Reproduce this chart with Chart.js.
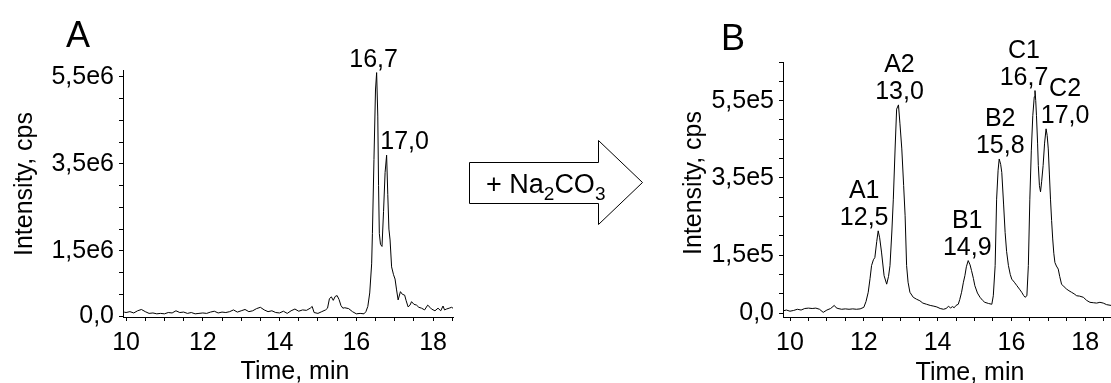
<!DOCTYPE html>
<html>
<head>
<meta charset="utf-8">
<script src="https://cdn.jsdelivr.net/npm/chart.js@4"></script>
<style>
  html, body { margin: 0; padding: 0; background: #fff; }
  #page { position: relative; width: 1111px; height: 383px; overflow: hidden; font-family: 'Liberation Sans', Arial, sans-serif; }
  #page canvas { position: absolute; top: 0; }
  .panel-tag { position: absolute; font-size: 36px; line-height: 1; color: #000; }
  #arrow { position: absolute; left: 0; top: 0; }
</style>
</head>
<body>
<div id="page">
  <canvas id="chartA" width="460" height="383" style="left:0"></canvas>
  <canvas id="chartB" width="451" height="383" style="left:660px"></canvas>
  <div class="panel-tag" style="left:66px; top:17px">A</div>
  <div class="panel-tag" style="left:721px; top:20px">B</div>
  <svg id="arrow" width="1111" height="383">
    <path d="M469.5,162.5 L598.5,162.5 L598.5,140.5 L642.5,182.5 L598.5,224.5 L598.5,203.5 L469.5,203.5 Z"
          fill="#fff" stroke="#000" stroke-width="1"/>
    <text x="486" y="193" font-family="'Liberation Sans', Arial, sans-serif" font-size="27" fill="#000">+ Na<tspan font-size="19" dy="7">2</tspan><tspan dy="-7">CO</tspan><tspan font-size="19" dy="7">3</tspan></text>
  </svg>
</div>

<script>
// ── common ─────────────────────────────────────
const xTickLabels = [10, 12, 14, 16, 18];

// ── panel A : intensity in 1e6 cps ─────────────
const timeA = [
  9.95, 10.0, 10.1, 10.2, 10.3, 10.4, 10.5, 10.6, 10.7, 10.8, 10.9,
  11.0, 11.1, 11.2, 11.3, 11.4, 11.5, 11.6, 11.7, 11.8, 11.9,
  12.0, 12.1, 12.2, 12.3, 12.4, 12.5, 12.6, 12.7, 12.8, 12.9,
  13.0, 13.1, 13.2, 13.3, 13.4, 13.5, 13.6, 13.7, 13.8, 13.9,
  14.0, 14.1, 14.2, 14.3, 14.4, 14.5, 14.6, 14.7, 14.8, 14.85, 14.9,
  15.0, 15.1, 15.2, 15.25, 15.3, 15.35, 15.4, 15.45, 15.5, 15.55, 15.6, 15.65, 15.7, 15.8, 15.9,
  16.0, 16.1, 16.2, 16.25, 16.3, 16.35, 16.4, 16.42, 16.46, 16.5, 16.53, 16.56, 16.58, 16.6, 16.63,
  16.67, 16.71, 16.75, 16.79, 16.82, 16.85, 16.88, 16.92, 16.97, 17.01, 17.05, 17.09, 17.15,
  17.2, 17.26, 17.3, 17.35, 17.4, 17.44, 17.5, 17.57, 17.63, 17.7, 17.78, 17.86, 17.92, 17.96,
  18.05, 18.13, 18.2, 18.26, 18.3, 18.35, 18.42, 18.48, 18.52
];
const intensityA = [
  0.09, 0.08, 0.10, 0.07, 0.12, 0.15, 0.10, 0.06, 0.07, 0.05, 0.06,
  0.05, 0.08, 0.07, 0.12, 0.08, 0.09, 0.06, 0.08, 0.05, 0.06,
  0.07, 0.06, 0.09, 0.11, 0.07, 0.09, 0.08, 0.10, 0.14, 0.09,
  0.12, 0.15, 0.10, 0.12, 0.17, 0.20, 0.14, 0.10, 0.12, 0.08,
  0.07, 0.11, 0.06, 0.12, 0.16, 0.11, 0.14, 0.13, 0.18, 0.22, 0.08,
  0.06, 0.10, 0.14, 0.18, 0.40, 0.44, 0.36, 0.45, 0.47, 0.38, 0.24, 0.18, 0.19, 0.17, 0.10,
  0.05, 0.06, 0.05, 0.10, 0.22, 0.53, 1.20, 1.90, 3.60, 5.20, 5.60, 4.60, 3.00, 1.90, 1.65,
  1.60, 2.40, 3.30, 3.70, 2.80, 2.00, 1.75, 1.13, 0.95, 0.85, 0.60, 0.37, 0.56,
  0.50, 0.48, 0.35, 0.21, 0.25, 0.33, 0.27, 0.25, 0.20, 0.18, 0.14, 0.25, 0.20, 0.16,
  0.12, 0.18, 0.12, 0.23, 0.14, 0.16, 0.18, 0.20, 0.18
];
const peakTimesA = [16.53, 16.79];
const peakTextA = [['16,7'], ['17,0']];
const yTicksA = [0, 1.5, 3.5, 5.5];
const yTickTextA = ['0,0', '1,5e6', '3,5e6', '5,5e6'];

// ── panel B : intensity in 1e5 cps ─────────────
const timeB = [
  9.82, 9.9, 10.0, 10.1, 10.2, 10.3, 10.4, 10.5, 10.6, 10.7, 10.8, 10.9,
  11.0, 11.1, 11.2, 11.25, 11.3, 11.4, 11.5, 11.6, 11.7, 11.8, 11.9,
  12.0, 12.06, 12.12, 12.17, 12.21, 12.26, 12.3, 12.35, 12.39, 12.43, 12.48, 12.55, 12.62, 12.67,
  12.71, 12.76, 12.8, 12.85, 12.89, 12.94, 12.98, 13.03, 13.08, 13.12, 13.16, 13.2, 13.25, 13.34,
  13.43, 13.52, 13.6, 13.7, 13.8, 13.9, 13.98, 14.07, 14.16, 14.23, 14.3, 14.35, 14.4, 14.45, 14.5,
  14.56, 14.6, 14.65, 14.7, 14.74, 14.78, 14.83, 14.88, 14.92, 14.97, 15.01, 15.08, 15.15, 15.22,
  15.28, 15.38, 15.47, 15.51, 15.56, 15.6, 15.64, 15.67, 15.71, 15.74, 15.79, 15.83, 15.87, 15.92,
  15.97, 16.01, 16.08, 16.15, 16.22, 16.28, 16.33, 16.37, 16.42, 16.46, 16.5, 16.54, 16.58, 16.62,
  16.64, 16.66, 16.68, 16.71, 16.73, 16.76, 16.79, 16.82, 16.86, 16.9, 16.94, 16.97, 17.0, 17.03,
  17.06, 17.09, 17.12, 17.15, 17.18, 17.22, 17.27, 17.31, 17.36, 17.43, 17.5, 17.56, 17.63, 17.7,
  17.77, 17.85, 17.95, 18.04, 18.13, 18.22, 18.31, 18.4, 18.49, 18.58, 18.7
];
const intensityB = [
  0.06, 0.08, 0.05, 0.07, 0.10, 0.08, 0.12, 0.13, 0.12, 0.13, 0.10, 0.02,
  0.08, 0.12, 0.20, 0.14, 0.12, 0.10, 0.11, 0.10, 0.11, 0.10, 0.11,
  0.15, 0.30, 0.54, 0.90, 1.23, 1.38, 1.44, 1.85, 2.13, 1.95, 1.58, 0.97, 0.75, 0.95,
  1.23, 2.10, 2.95, 4.30, 5.28, 5.39, 4.90, 4.25, 3.30, 2.52, 1.23, 0.80, 0.54, 0.41,
  0.36, 0.32, 0.26, 0.23, 0.20, 0.18, 0.16, 0.12, 0.10, 0.12, 0.18, 0.13, 0.17, 0.14, 0.20,
  0.23, 0.35, 0.54, 0.80, 0.97, 1.20, 1.36, 1.25, 1.10, 0.90, 0.71, 0.52, 0.41, 0.33,
  0.28, 0.25, 0.23, 0.45, 1.23, 2.95, 3.70, 3.99, 3.85, 3.64, 2.80, 2.09, 1.60, 1.23,
  1.00, 0.88, 0.80, 0.71, 0.62, 0.54, 0.46, 0.41, 0.45, 1.23, 2.95, 4.20, 5.11, 5.60,
  5.76, 5.50, 5.11, 4.40, 3.82, 3.30, 3.14, 3.40, 3.82, 4.40, 4.77, 4.60, 4.25, 3.60,
  2.95, 2.40, 1.92, 1.55, 1.31, 1.22, 1.14, 0.95, 0.75, 0.68, 0.62, 0.58, 0.54, 0.50,
  0.45, 0.44, 0.41, 0.33, 0.28, 0.27, 0.26, 0.28, 0.26, 0.22, 0.20
];
const peakTimesB = [12.39, 12.94, 14.83, 15.67, 16.64, 16.94];
const peakTextB = [['A1', '12,5'], ['A2', '13,0'], ['B1', '14,9'], ['B2', '15,8'], ['C1', '16,7'], ['C2', '17,0']];
const yTicksB = [0, 1.5, 3.5, 5.5];
const yTickTextB = ['0,0', '1,5e5', '3,5e5', '5,5e5'];

const FONT = "'Liberation Sans', Arial, sans-serif";
Chart.defaults.font.family = FONT;
Chart.defaults.font.size = 25;
Chart.defaults.color = '#000';

function steps(lo, hi, step) {
  const out = [];
  for (let v = lo; v <= hi + 1e-9; v += step) out.push(Math.round(v * 1000) / 1000);
  return out;
}

// peak labels + axis titles, drawn on top of the trace
function annotations(cfg) {
  return {
    id: 'annotations',
    afterDraw(chart) {
      const { ctx, scales: { x, y } } = chart;
      const pts = chart.data.datasets[0].data;
      ctx.save();
      ctx.fillStyle = '#000';
      ctx.font = '25px ' + FONT;
      ctx.textAlign = 'center';
      ctx.textBaseline = 'alphabetic';
      cfg.peakTimes.forEach((t, i) => {
        const p = pts.reduce((a, b) => Math.abs(b.x - t) < Math.abs(a.x - t) ? b : a);
        const px = x.getPixelForValue(p.x) + cfg.labelDx[i];
        let py = y.getPixelForValue(p.y) - 6;
        const lines = cfg.peakText[i];
        for (let k = lines.length - 1; k >= 0; k--) {
          ctx.fillText(lines[k], px, py);
          py -= 27;
        }
      });
      ctx.fillText('Time, min', cfg.xTitle[0], cfg.xTitle[1]);
      ctx.translate(cfg.yTitle[0], cfg.yTitle[1]);
      ctx.rotate(-Math.PI / 2);
      ctx.textBaseline = 'middle';
      ctx.fillText('Intensity, cps', 0, 0);
      ctx.restore();
    }
  };
}

function makeChart(id, cfg) {
  const points = cfg.time.map((t, i) => ({ x: t, y: cfg.values[i] }));
  return new Chart(document.getElementById(id), {
    type: 'line',
    data: {
      datasets: [{ data: points, borderColor: '#000', borderWidth: 1, pointRadius: 0, tension: 0, fill: false }]
    },
    options: {
      responsive: false,
      animation: false,
      events: [],
      layout: { padding: { top: cfg.top, right: cfg.right, left: 0, bottom: 0 } },
      plugins: { legend: { display: false }, tooltip: { enabled: false } },
      scales: {
        x: {
          type: 'linear', min: cfg.xMin, max: cfg.xMax,
          afterBuildTicks: s => { s.ticks = steps(10, 18.5, 0.5).map(v => ({ value: v })); },
          afterFit: s => { s.height = 66; },
          grid: { drawOnChartArea: false, drawTicks: true, tickLength: 4, color: '#000' },
          border: { color: '#000', width: 1 },
          ticks: {
            autoSkip: false, maxRotation: 0, padding: 7,
            callback: v => xTickLabels.includes(v) ? String(v) : ''
          }
        },
        y: {
          min: cfg.yMin, max: cfg.yMax,
          afterBuildTicks: s => { s.ticks = steps(0, cfg.yMax, 0.5).map(v => ({ value: v })); },
          afterFit: s => { s.width = 123; },
          grid: { drawOnChartArea: false, drawTicks: true, tickLength: 4, color: '#000' },
          border: { color: '#000', width: 1 },
          ticks: {
            autoSkip: false, padding: 5,
            callback: v => {
              const i = cfg.yTicks.indexOf(v);
              return i >= 0 ? cfg.yTickText[i] : '';
            }
          }
        }
      }
    },
    plugins: [annotations(cfg)]
  });
}

makeChart('chartA', {
  time: timeA, values: intensityA,
  xMin: 9.92, xMax: 18.52, yMin: -0.023, yMax: 5.66,
  yTicks: yTicksA, yTickText: yTickTextA,
  peakTimes: peakTimesA, peakText: peakTextA, labelDx: [-3, 18],
  top: 70, right: 7,
  xTitle: [295, 379], yTitle: [25, 184]
});

makeChart('chartB', {
  time: timeB, values: intensityB,
  xMin: 9.81, xMax: 18.7, yMin: -0.1, yMax: 6.5,
  yTicks: yTicksB, yTickText: yTickTextB,
  peakTimes: peakTimesB, peakText: peakTextB, labelDx: [-14, 1, -1, 1, -11, 19],
  top: 62, right: 0,
  xTitle: [310, 380], yTitle: [34, 183]
});
</script>
</body>
</html>
